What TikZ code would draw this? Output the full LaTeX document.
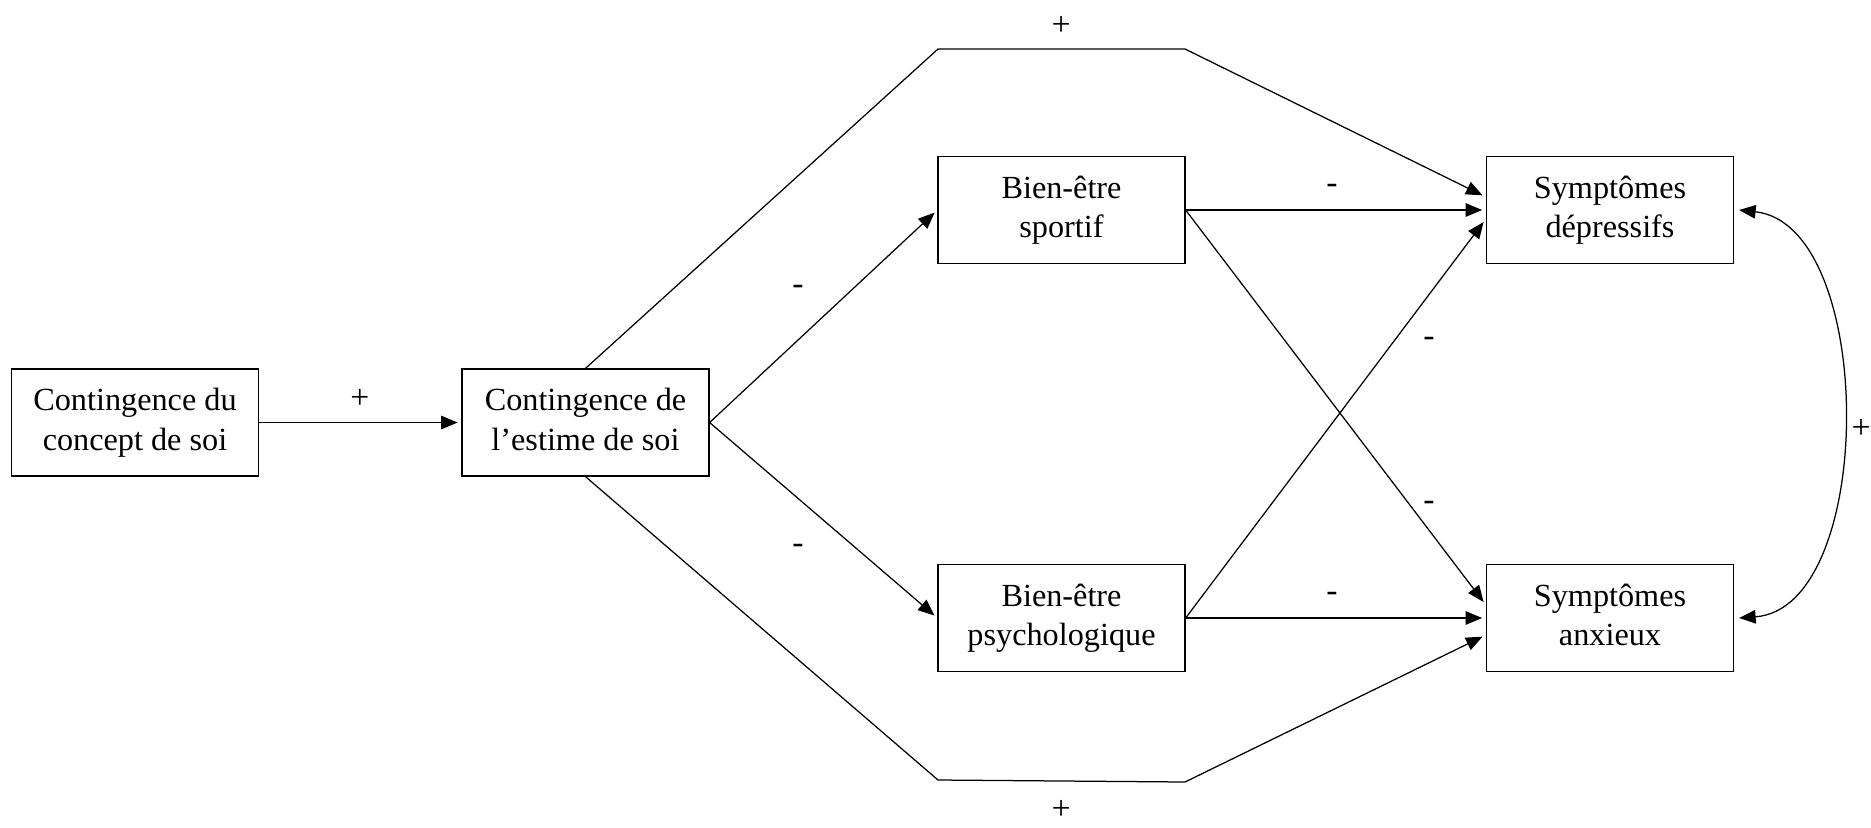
\documentclass[tikz,border=0pt]{standalone}
\usepackage{fontspec}
\setmainfont{Liberation Serif}
\usetikzlibrary{arrows.meta}
\newcommand{\bxt}[1]{\raisebox{-2pt}{\begin{tabular}{@{}c@{}}#1\end{tabular}}}
\begin{document}
\begin{tikzpicture}[x=0.4pt,y=-0.4pt,
  box/.style={draw,line width=0.5pt,minimum width=98.8pt,minimum height=42.8pt,align=center,inner sep=0pt,font=\fontsize{12.9pt}{15.8pt}\selectfont},
  lbl/.style={font=\fontsize{13.5pt}{15.8pt}\selectfont,inner sep=0pt},
  arr/.style={line width=0.5pt,-{Triangle[length=6.6pt,width=5.4pt]},shorten >=1.5pt},
  dbl/.style={line width=0.5pt,{Triangle[length=6.6pt,width=5.4pt]}-{Triangle[length=6.6pt,width=5.4pt]}}]
\useasboundingbox (0,0) rectangle (1871,827);
\node[box] (A) at (135,422.5) {\bxt{Contingence du\\concept de soi}};
\node[box] (B) at (585.5,422.5) {\bxt{Contingence de\\l’estime de soi}};
\node[box] (C) at (1061.5,210) {\bxt{Bien-être\\sportif}};
\node[box] (D) at (1061.5,618) {\bxt{Bien-être\\psychologique}};
\node[box] (E) at (1610,210) {\bxt{Symptômes\\dépressifs}};
\node[box] (F) at (1610,618) {\bxt{Symptômes\\anxieux}};
\coordinate (t1) at (938,49);
\coordinate (t2) at (1185,49);
\coordinate (b1) at (938,780);
\coordinate (b2) at (1185,782);
\coordinate (Et) at ([yshift=5.2pt]E.west);
\coordinate (Eb) at ([yshift=-3.6pt]E.west);
\coordinate (Ft) at ([yshift=5.2pt]F.west);
\coordinate (Fb) at ([yshift=-6.8pt]F.west);
\draw[arr] (A.east) -- (B.west);
\draw[arr] (B.east) -- (C.west);
\draw[arr] (B.east) -- (D.west);
\draw[arr] (B.north) -- (t1) -- (t2) -- (Et);
\draw[arr] (B.south) -- (b1) -- (b2) -- (Fb);
\draw[arr] (C.east) -- (E.west);
\draw[arr] (D.east) -- (F.west);
\draw[arr] (C.east) -- (Ft);
\draw[arr] (D.east) -- (Eb);
\coordinate (Er) at ([xshift=2pt]E.east);
\coordinate (Fr) at ([xshift=2pt]F.east);
\draw[dbl] (Er) .. controls (1877,225) and (1877,608) .. (Fr);
\node[lbl] (p1) at (360,399) {+};
\node[lbl] (p2) at (1061,26) {+};
\node[lbl] (p3) at (1061,810) {+};
\node[lbl] (p4) at (1861,429) {+};
\node[lbl] (m1) at (798,290) {-};
\node[lbl] (m2) at (798,549) {-};
\node[lbl] (m3) at (1332,189) {-};
\node[lbl] (m4) at (1332,597) {-};
\node[lbl] (m5) at (1429,342) {-};
\node[lbl] (m6) at (1429,506) {-};
\end{tikzpicture}
\end{document}
